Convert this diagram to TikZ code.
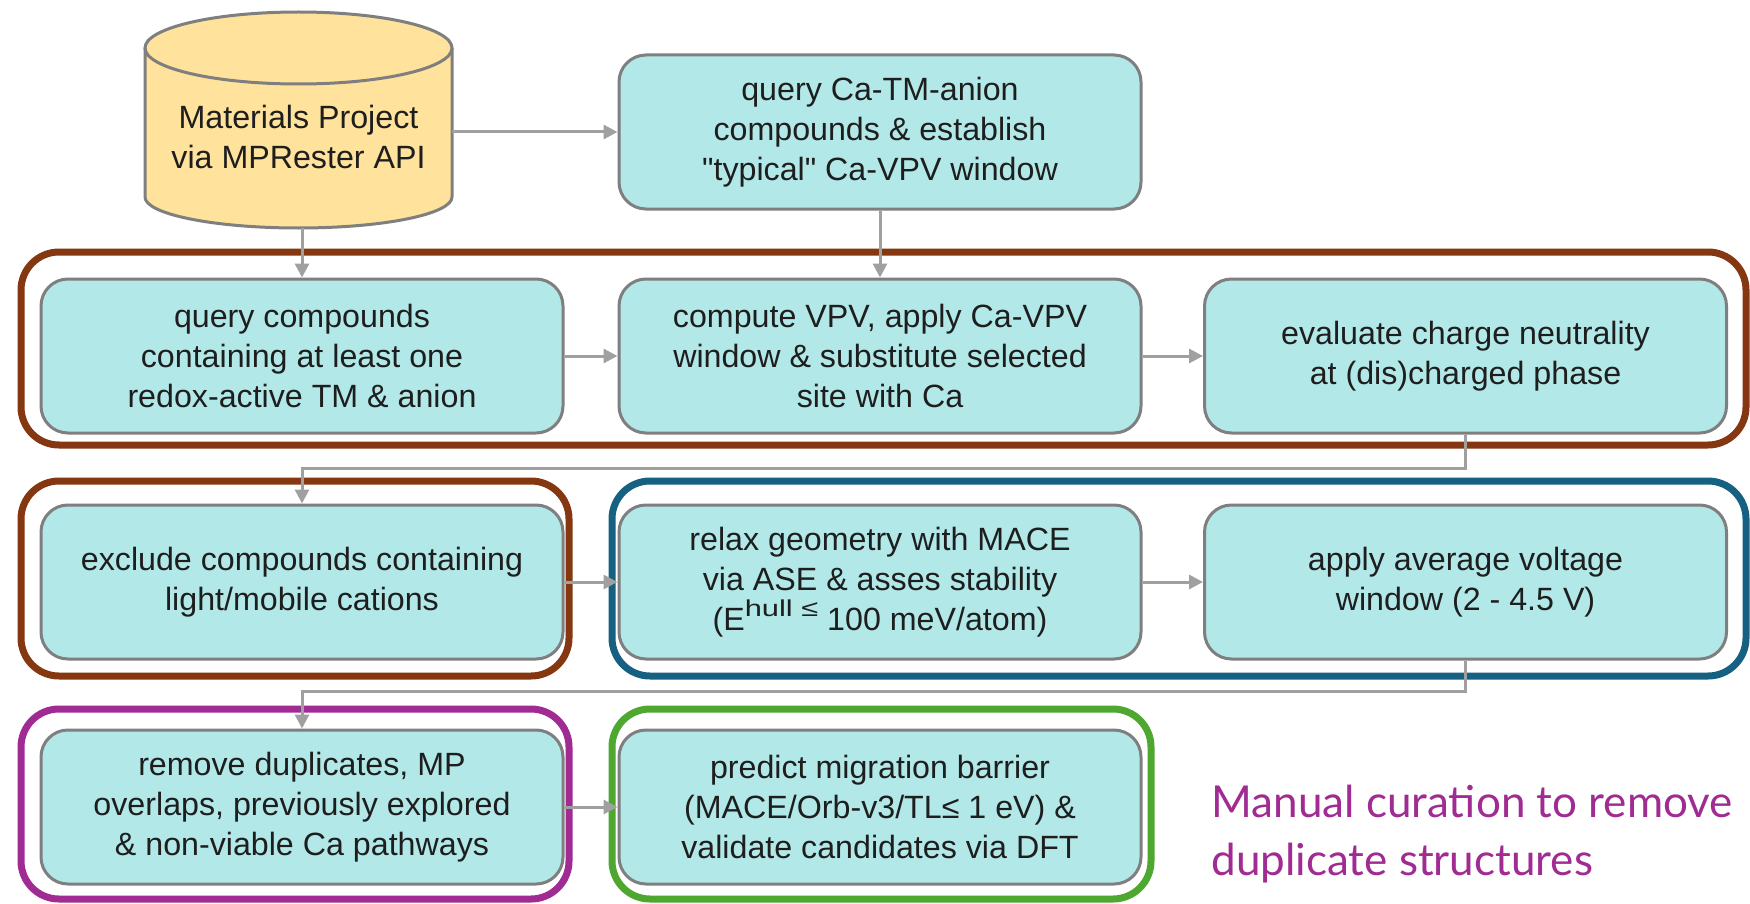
\documentclass[tikz,border=0pt]{standalone}
\usepackage{fontspec}
\usepackage{graphicx}
\setmainfont{Liberation Sans}[Ligatures=TeXOff]
\newfontfamily\notefont{Lato}
\usetikzlibrary{arrows.meta}
\definecolor{boxfill}{RGB}{178,232,232}
\definecolor{boxline}{RGB}{127,127,127}
\definecolor{cylfill}{RGB}{255,226,156}
\definecolor{conncol}{RGB}{160,160,160}
\definecolor{grpbrown}{RGB}{132,55,16}
\definecolor{grpblue}{RGB}{22,96,130}
\definecolor{grppurple}{RGB}{160,43,147}
\definecolor{grpgreen}{RGB}{78,167,46}
\definecolor{txt}{RGB}{30,30,30}
\begin{document}
\begin{tikzpicture}[x=0.5pt,y=-0.5pt,
  stepbox/.style={draw=boxline, fill=boxfill, line width=1.5pt, rounded corners=13.5pt,
    minimum width=261pt, minimum height=77pt, inner sep=0pt, align=center, text=txt,
    font=\fontsize{16.1}{20}\selectfont},
  grp/.style={line width=3.5pt, rounded corners=19pt},
  conn/.style={draw=conncol, line width=1.5pt, -{Triangle[length=7pt,width=7pt]}},
  note/.style={anchor=base west, align=left, text=grppurple, inner sep=0pt,
    font=\notefont\fontsize{22}{29}\selectfont}
]
\fill[white] (0,0) rectangle (1750,904);
\useasboundingbox (0,0) rectangle (1750,904);

% group frames
\draw[grp, draw=grpbrown]  (21,252) rectangle (1746,445);
\draw[grp, draw=grpbrown]  (21,481) rectangle (569,676);
\draw[grp, draw=grpblue]   (612,481) rectangle (1746,676);
\draw[grp, draw=grppurple] (21,709) rectangle (569,899);
\draw[grp, draw=grpgreen]  (612,709) rectangle (1151,899);

% cylinder (database)
\fill[cylfill] (145,48) -- (145,197)
  arc[start angle=180, end angle=360, x radius=76.75pt, y radius=15.5pt]
  -- (452,48)
  arc[start angle=0, end angle=180, x radius=76.75pt, y radius=18pt] -- cycle;
\draw[boxline, line width=1.5pt] (145,48) -- (145,197)
  arc[start angle=180, end angle=360, x radius=76.75pt, y radius=15.5pt]
  -- (452,48);
\draw[boxline, line width=1.5pt] (298.5,48) ellipse [x radius=76.75pt, y radius=18pt];
\node[align=center, text=txt, font=\fontsize{16.1}{20}\selectfont, inner sep=0pt] (cyl) at (298.5,137)
  {Materials Project\\via MPRester API};
\coordinate (cylE) at (452,132);
\coordinate (cylS) at (302,228);

% steps
\node[stepbox] (qca) at (880,132) {query Ca-TM-anion\\compounds \& establish\\"typical" Ca-VPV window};
\node[stepbox] (qc) at (302,356) {query compounds\\containing at least one\\redox-active TM \& anion};
\node[stepbox] (comp) at (880,356) {compute VPV, apply Ca-VPV\\window \& substitute selected\\site with Ca};
\node[stepbox] (eval) at (1465.5,356) {evaluate charge neutrality\\at (dis)charged phase};
\node[stepbox] (excl) at (302,582) {exclude compounds containing\\light/mobile cations};
\node[stepbox] (relax) at (880,582) {relax geometry with MACE\\via ASE \& asses stability\\(E\raisebox{7pt}[0pt][0pt]{\scalebox{1.34}[1]{\fontsize{11.5}{11.5}\selectfont hull ≤}} 100 meV/atom)};
\node[stepbox] (apply) at (1465.5,582) {apply average voltage\\window (2 - 4.5 V)};
\node[stepbox] (remove) at (302,807) {remove duplicates, MP\\overlaps, previously explored\\\& non-viable Ca pathways};
\node[stepbox] (predict) at (880,807) {predict migration barrier\\(MACE/Orb-v3/TL≤ 1 eV) \&\\validate candidates via DFT};

% connectors
\draw[conn] (cylE) -- (qca.west);
\draw[conn] (cylS) -- (qc.north);
\draw[conn] (qca.south) -- (comp.north);
\draw[conn] (qc.east) -- (comp.west);
\draw[conn] (comp.east) -- (eval.west);
\draw[conn] (eval.south) -- ++(0,34) -| (excl.north);
\draw[conn] (excl.east) -- (relax.west);
\draw[conn] (relax.east) -- (apply.west);
\draw[conn] (apply.south) -- ++(0,31) -| (remove.north);
\draw[conn] (remove.east) -- (predict.west);

% note
\node[note] (curation) at (1211,875) {Manual curation to remove\\duplicate structures};
\end{tikzpicture}
\end{document}
